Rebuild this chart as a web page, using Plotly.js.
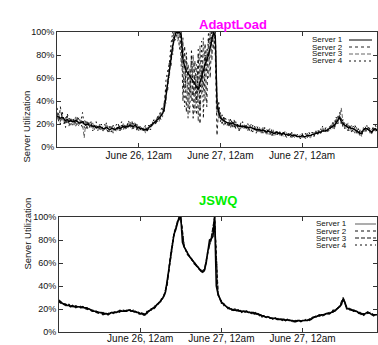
<!DOCTYPE html>
<html><head><meta charset="utf-8">
<script src="https://cdn.plot.ly/plotly-3.0.1.min.js"></script>
<style>html,body{margin:0;padding:0;background:#fff}#c{width:378px;height:345px}</style>
</head><body><div id="c"></div>
<script>
// ---- data (utilization %, time in hours from start) ----
const seriesNames = ["Server 1", "Server 2", "Server 3", "Server 4"];
const tickHours = [24, 48, 72];
const tickLabels = ["June 26, 12am", "June 27, 12am", "June 27, 12am"];
const yTickVals = [0, 20, 40, 60, 80, 100];
const yTickText = ["0%", "20%", "40%", "60%", "80%", "100%"];

// AdaptLoad, all servers sampled every 0.5 h
const adaptS1 = [
27,26,25,26,24,23,24,22,23,22,
22,23,22,21,21,22,20,19,20,19,
19,18,18,17,17,18,17,16,16,17,
16,15,16,16,15,16,17,16,17,18,
17,18,18,19,18,18,19,17,17,16,
16,15,15,15,17,18,20,21,22,24,
25,27,29,33,44,55,68,78,88,95,
100,99,100,97,76,70,66,64,62,60,
58,55,52,50,56,62,66,72,76,80,
86,92,100,96,38,30,26,24,23,22,
21,21,20,21,20,19,19,18,18,18,
18,17,17,17,17,16,16,15,15,15,
14,15,14,13,14,13,13,12,12,13,
12,12,11,12,11,11,10,11,10,10,
10,9,9,9,10,9,9,10,10,10,
11,11,12,12,13,13,14,14,14,15,
16,17,18,19,21,23,26,22,20,19,
18,17,17,16,16,15,14,13,12,12,
15,16,16,15,14,13,15,16,14];
const adaptS2 = [
30,22,35,24,26,20,27,18,24,21,
25,18,23,26,20,17,24,21,16,22,
21,16,20,15,19,17,14,18,20,15,
14,18,13,19,16,13,20,14,19,16,
20,15,21,17,23,16,20,15,19,14,
18,13,17,14,19,16,22,19,25,22,
28,24,32,38,52,48,75,70,95,100,
100,100,85,100,40,88,30,72,45,80,
25,75,40,85,20,70,50,90,35,95,
60,100,100,80,10,35,22,28,19,25,
23,18,22,17,24,16,20,15,21,17,
15,20,14,19,16,13,18,14,17,12,
16,12,17,11,15,14,10,14,11,15,
10,14,9,13,11,8,12,10,13,9,
8,11,10,7,11,9,12,8,10,12,
13,9,14,11,15,12,16,13,17,14,
18,15,22,17,24,20,30,25,17,22,
20,15,19,13,18,17,12,16,10,14,
12,18,14,17,12,15,18,13,16];
const adaptS3 = [
24,29,22,28,20,26,21,25,19,24,
19,27,20,18,24,20,8,23,18,21,
17,21,15,19,14,20,18,13,17,19,
18,13,17,14,18,17,14,19,15,21,
15,20,16,22,17,21,17,20,14,18,
14,17,12,18,15,20,18,23,20,27,
22,30,26,40,38,62,60,85,80,100,
100,92,100,70,95,50,78,25,68,40,
80,30,72,22,88,45,95,40,85,60,
100,75,100,100,45,25,30,20,26,19,
19,24,17,22,18,21,16,20,15,19,
20,15,18,14,20,17,14,18,13,17,
12,17,13,15,11,16,12,15,10,13,
13,10,12,9,14,12,9,12,8,11,
11,8,10,11,8,10,7,12,9,8,
10,13,11,15,12,16,13,17,13,16,
14,20,16,23,19,27,24,34,22,17,
16,21,14,19,15,12,17,11,15,9,
17,13,19,14,16,11,17,14,13];
const adaptS4 = [
34,25,20,31,23,17,29,24,26,19,
24,20,26,19,22,30,18,15,23,17,
22,14,19,22,16,15,20,17,14,21,
13,17,19,12,17,20,15,18,22,15,
19,17,23,18,15,20,22,14,18,15,
17,15,19,13,19,15,21,24,19,26,
27,32,35,30,58,66,72,90,100,92,
95,100,100,88,60,35,82,55,30,85,
45,62,28,78,35,92,25,80,65,100,
90,100,85,100,30,40,24,21,27,20,
21,17,25,19,16,22,18,14,20,22,
16,18,21,15,13,19,15,12,18,14,
15,13,12,16,13,11,15,9,13,11,
11,13,10,14,9,12,11,8,12,10,
9,10,8,9,12,8,10,9,13,9,
12,10,13,10,14,11,18,12,15,13,
17,19,21,15,26,22,28,20,24,16,
19,14,18,16,13,19,15,12,14,11,
14,17,13,18,15,12,16,19,15];

// JSWQ, Server 1 sampled every 0.5 h
const jswqS1 = [
27,26,25,24,24,23,23,22,23,22,
22,22,22,21,22,21,21,20,20,19,
18,18,18,17,17,17,16,16,16,15,
16,17,17,17,17,18,18,18,18,18,
18,19,19,18,18,18,17,17,16,16,
15,15,17,18,19,20,21,22,24,25,
27,29,31,35,45,55,66,76,85,89,
95,100,100,78,74,71,68,66,64,62,
60,58,56,54,53,52,54,60,70,80,
81,83,100,40,33,29,26,25,23,22,
21,20,20,19,19,19,19,18,18,18,
18,18,17,17,17,17,16,16,15,15,
14,14,13,13,13,12,12,12,12,11,
11,11,11,11,10,11,10,10,10,9,
9,10,10,9,10,10,10,10,11,11,
12,13,13,14,14,15,15,15,16,16,
16,17,18,18,20,21,22,24,29,26,
21,20,20,19,19,18,18,17,16,16,
15,16,17,17,16,15,15,15,15];
// JSWQ, Servers 2-4 sampled every 1 h
const jswqS2 = [
26,24,24,22,23,21,23,21,20,19,
19,17,16,17,15,17,16,18,17,19,
18,19,17,18,16,14,17,19,20,23,
28,30,44,66,84,96,100,73,69,63,
61,55,54,53,71,80,100,32,27,23,
22,19,20,18,19,17,18,16,17,14,
15,13,12,12,11,12,10,11,10,10,
9,10,9,11,10,12,14,14,15,16,
17,17,20,22,28,22,19,20,17,17,
14,18,16,14,16];
const jswqS3 = [
28,25,23,23,22,23,21,22,21,20,
18,18,17,15,16,16,17,17,19,18,
19,18,19,17,17,16,16,20,21,24,
26,32,41,68,86,95,100,75,67,65,
59,57,52,55,69,82,100,34,25,24,
20,20,18,19,17,19,17,17,15,16,
13,14,13,11,12,11,11,10,11,9,
10,9,10,10,11,13,13,15,14,16,
16,19,19,23,30,20,21,18,18,15,
16,16,17,15,14];
const jswqS4 = [
27,25,24,24,22,22,22,21,22,19,
18,17,17,16,16,16,18,17,18,18,
18,19,18,17,15,15,18,18,22,24,
27,31,43,67,85,96,100,74,68,64,
60,56,53,54,70,81,99,33,26,22,
21,19,19,18,18,18,17,16,16,15,
14,13,12,12,12,11,11,10,10,10,
10,10,10,10,11,12,14,15,15,16,
17,18,20,22,29,21,20,19,18,16,
15,17,16,15,15];

// ---- helpers ----
const hoursHalf = arr => arr.map((_, i) => i * 0.5);
const hoursOne = arr => arr.map((_, i) => i);
const W = 378, H = 345;
const px = x => x / W, py = y => 1 - y / H;

const styles = [
  {color: '#000', width: 1.4, dash: 'solid'},
  {color: '#222', width: 1, dash: 'dot'},
  {color: '#666', width: 1, dash: '4px,2px'},
  {color: '#111', width: 1, dash: '2px,3px'}
];
const stylesB = [
  {color: '#000', width: 1.6, dash: 'solid'},
  {color: '#111', width: 1.2, dash: 'dot'},
  {color: '#111', width: 1.2, dash: '4px,2px'},
  {color: '#111', width: 1.2, dash: '2px,3px'}
];

const adapt = [adaptS1, adaptS2, adaptS3, adaptS4];
const jswq = [jswqS1, jswqS2, jswqS3, jswqS4];
const traces = [];
adapt.forEach((ys, i) => traces.push({
  x: hoursHalf(ys), y: ys, type: 'scatter', mode: 'lines',
  name: seriesNames[i], line: styles[i], xaxis: 'x', yaxis: 'y', showlegend: false
}));
jswq.forEach((ys, i) => traces.push({
  x: i === 0 ? hoursHalf(ys) : hoursOne(ys), y: ys, type: 'scatter', mode: 'lines',
  name: seriesNames[i], line: stylesB[i], xaxis: 'x2', yaxis: 'y2', showlegend: false
}));
// draw server 1 last so it sits on top
const order = [1,2,3,0,5,6,7,4].map(i => traces[i]);

const font = {family: 'Liberation Sans, Arial, sans-serif', color: '#111'};
const xBase = {
  range: [0, 94], tickvals: tickHours, ticktext: tickLabels,
  ticks: 'inside', ticklen: 4, tickcolor: '#333', mirror: 'ticks',
  showline: true, linecolor: '#333', linewidth: 1, showgrid: false, zeroline: false,
  tickfont: Object.assign({size: 10}, font), fixedrange: true
};
const yBase = {
  range: [0, 100], tickvals: yTickVals, ticktext: yTickText,
  ticks: 'inside', ticklen: 4, tickcolor: '#333', mirror: 'ticks',
  showline: true, linecolor: '#333', linewidth: 1, showgrid: false, zeroline: false,
  tickfont: Object.assign({size: 9}, font), fixedrange: true
};

const annotations = [
  {text: '<b>AdaptLoad</b>', x: px(233), y: py(15), xref: 'paper', yref: 'paper', showarrow: false,
   font: {family: font.family, size: 13, color: '#ff00ff'}},
  {text: '<b>JSWQ</b>', x: px(218), y: py(200), xref: 'paper', yref: 'paper', showarrow: false,
   font: {family: font.family, size: 13, color: '#00ee00'}},
  {text: 'Server Utilization', x: px(18), y: py(89), xref: 'paper', yref: 'paper', showarrow: false,
   textangle: -90, font: Object.assign({size: 9.5}, font)},
  {text: 'Server Utilization', x: px(19), y: py(272), xref: 'paper', yref: 'paper', showarrow: false,
   textangle: -90, font: Object.assign({size: 9.5}, font)}
];
const shapes = [];
const legendRows = [[40, 47, 54, 61], [224, 231, 238, 245]];
const legendText = [344, 348];
const legendLine = [[349, 372], [355, 376]];
const legendStyles = [
  [{color: '#000', width: 1, dash: 'solid'}, styles[1], styles[2], styles[3]],
  [{color: '#777', width: 1.3, dash: 'solid'}, stylesB[1], stylesB[2], stylesB[3]]
];
legendRows.forEach((rows, p) => {
  rows.forEach((ry, i) => {
    annotations.push({text: seriesNames[i], x: px(legendText[p]), y: py(ry), xref: 'paper', yref: 'paper',
      xanchor: 'right', yanchor: 'middle', showarrow: false, borderpad: 0,
      font: Object.assign({size: 8}, font)});
    const st = legendStyles[p][i];
    shapes.push({type: 'line', xref: 'paper', yref: 'paper', x0: px(legendLine[p][0]), x1: px(legendLine[p][1]),
      y0: py(ry), y1: py(ry), line: {color: st.color, width: Math.min(st.width, 1.2), dash: st.dash}});
  });
});

const layout = {
  width: W, height: H, margin: {l: 0, r: 0, t: 0, b: 0},
  paper_bgcolor: '#fff', plot_bgcolor: '#fff', showlegend: false,
  xaxis: Object.assign({}, xBase, {domain: [px(57), px(377)], anchor: 'y', ticklabelstandoff: -1}),
  yaxis: Object.assign({}, yBase, {domain: [py(147), py(32)], anchor: 'x'}),
  xaxis2: Object.assign({}, xBase, {domain: [px(59), px(377)], anchor: 'y2', ticklabelstandoff: -3}),
  yaxis2: Object.assign({}, yBase, {domain: [py(332), py(217)], anchor: 'x2'}),
  annotations: annotations, shapes: shapes
};
Plotly.newPlot('c', order, layout, {staticPlot: true, displayModeBar: false});
</script></body></html>
